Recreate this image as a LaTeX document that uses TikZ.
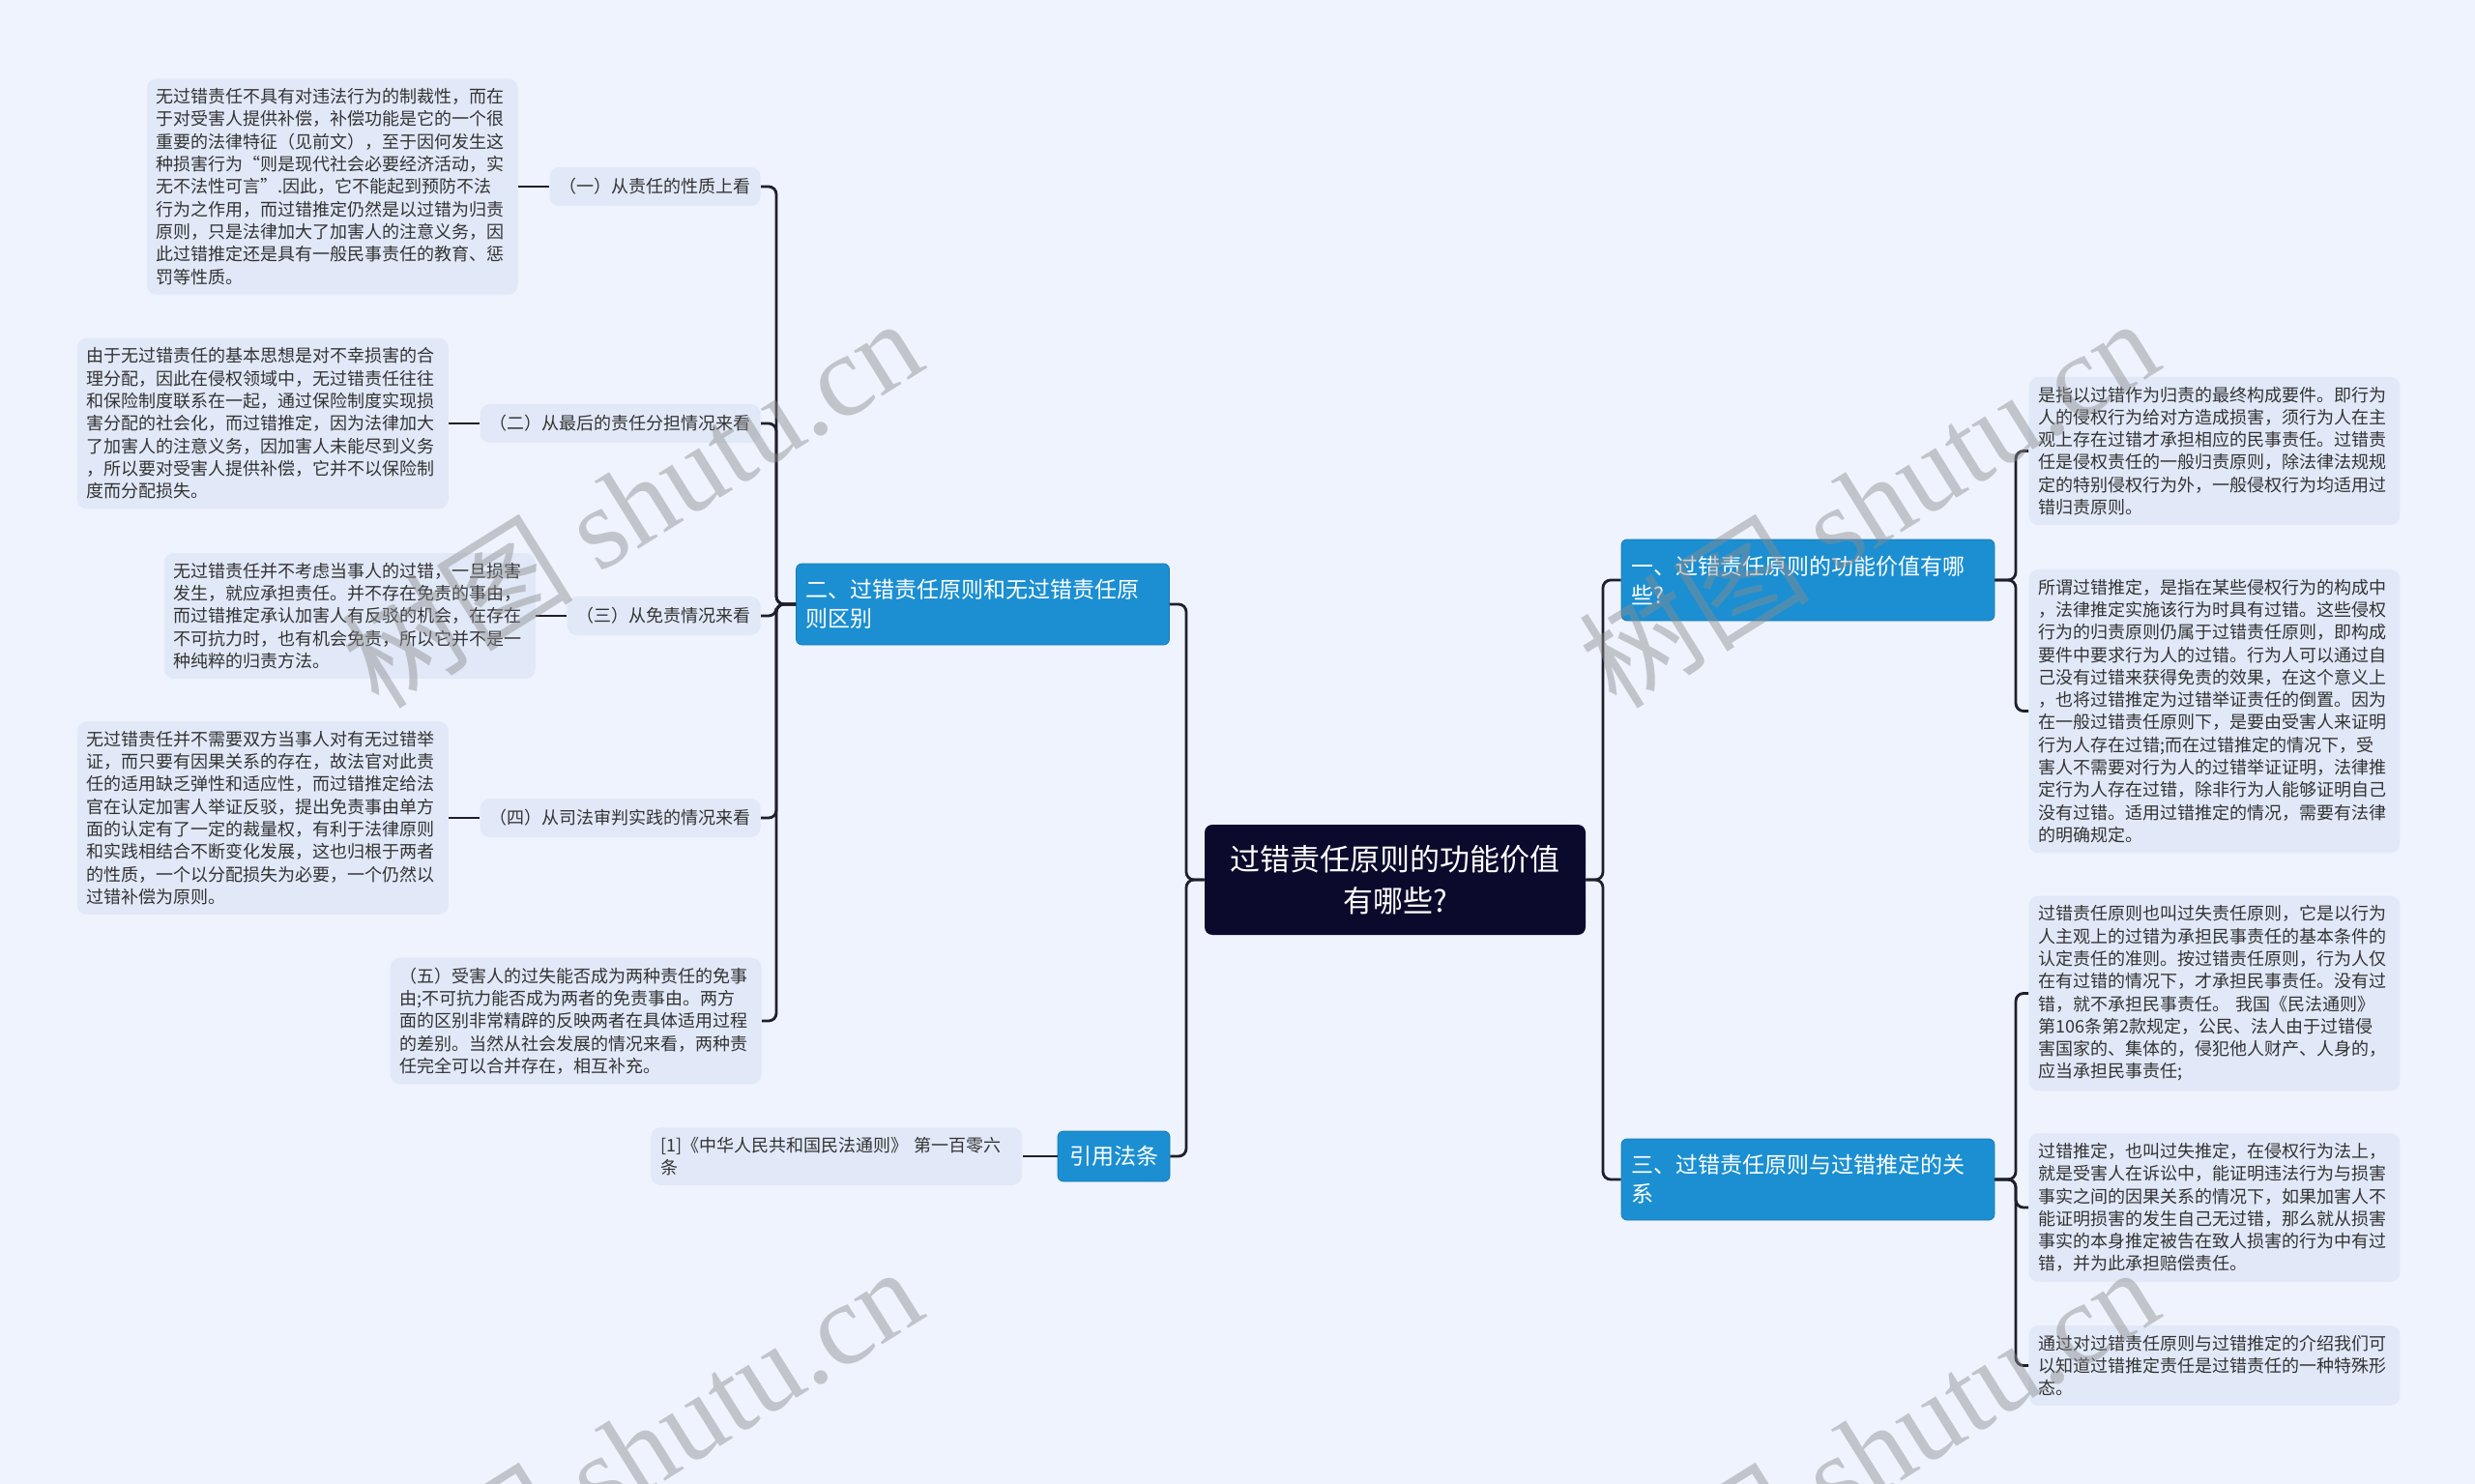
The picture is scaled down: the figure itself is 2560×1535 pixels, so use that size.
\documentclass[tikz,border=0pt]{standalone}
\usepackage{fontspec}
\setmainfont{Noto Sans CJK SC}
\newfontfamily\wmfont{Liberation Serif}
\usetikzlibrary{positioning}

\definecolor{bgblue}{HTML}{EEF3FD}
\definecolor{leafblue}{HTML}{E1E9F8}
\definecolor{branchblue}{HTML}{1B8FD2}
\definecolor{rootnavy}{HTML}{0B0A2C}
\definecolor{linegray}{HTML}{1F1F2B}
\definecolor{textgray}{HTML}{333333}

\begin{document}
\begin{tikzpicture}[x=0.5pt, y=-0.5pt,
  leaf/.style={fill=leafblue, rounded corners=5pt, text=textgray, align=left,
    text width=182pt, inner xsep=5pt, inner ysep=5pt,
    font=\fontsize{9pt}{11.65pt}\selectfont},
  sub/.style={fill=leafblue, rounded corners=5pt, text=textgray,
    inner xsep=5pt, minimum height=20pt, font=\fontsize{9pt}{11pt}\selectfont},
  branch/.style={fill=branchblue, draw=branchblue!85!black, rounded corners=3pt,
    text=white, align=left, text width=183pt, minimum height=42pt,
    inner xsep=5pt, font=\fontsize{11.5pt}{15pt}\selectfont},
  root/.style={fill=rootnavy, rounded corners=4pt, text=white, align=center,
    minimum width=197pt, minimum height=57pt,
    font=\fontsize{15.5pt}{21.5pt}\selectfont},
  conn/.style={draw=linegray, line width=1.4pt, rounded corners=4pt},
  wmark/.style={text=black!45, opacity=0.45, rotate=32,
    font=\fontsize{60pt}{60pt}\selectfont}]

  \useasboundingbox (0, 0) rectangle (2560, 1535);
  \fill[bgblue] (0, 0) rectangle (2560, 1535);

  % centre and main branches
  \node[root] (root) at (1443, 910) {过错责任原则的功能价值\\有哪些?};
  \node[branch] (b2) at (1016.5, 625) {二、过错责任原则和无过错责任原\\则区别};
  \node[branch, text width=46pt, inner xsep=6pt, minimum height=26pt,
    align=center] (cite) at (1152, 1196) {引用法条};
  \node[branch] (b1) at (1870, 600) {一、过错责任原则的功能价值有哪\\些?};
  \node[branch] (b3) at (1870, 1220) {三、过错责任原则与过错推定的关\\系};

  \coordinate (csl) at (1227, 910);
  \coordinate (csr) at (1658, 910);
  \coordinate (lsp) at (803, 625);
  \coordinate (rsp1) at (2085, 600);
  \coordinate (rsp3) at (2085, 1220);

  % left side
  \node[sub, anchor=east] (s1) at (787, 193) {（一）从责任的性质上看};
  \node[sub, anchor=east] (s2) at (787, 438) {（二）从最后的责任分担情况来看};
  \node[sub, anchor=east] (s3) at (787, 637) {（三）从免责情况来看};
  \node[sub, anchor=east] (s4) at (787, 846) {（四）从司法审判实践的情况来看};

  \node[leaf, left=16pt of s1] (l1) {无过错责任不具有对违法行为的制裁性，而在\\
    于对受害人提供补偿，补偿功能是它的一个很\\
    重要的法律特征（见前文），至于因何发生这\\
    种损害行为“则是现代社会必要经济活动，实\\
    无不法性可言”.因此，它不能起到预防不法\\
    行为之作用，而过错推定仍然是以过错为归责\\
    原则，只是法律加大了加害人的注意义务，因\\
    此过错推定还是具有一般民事责任的教育、惩\\
    罚等性质。};
  \node[leaf, left=16pt of s2] (l2) {由于无过错责任的基本思想是对不幸损害的合\\
    理分配，因此在侵权领域中，无过错责任往往\\
    和保险制度联系在一起，通过保险制度实现损\\
    害分配的社会化，而过错推定，因为法律加大\\
    了加害人的注意义务，因加害人未能尽到义务\\
    ，所以要对受害人提供补偿，它并不以保险制\\
    度而分配损失。};
  \node[leaf, left=16pt of s3] (l3) {无过错责任并不考虑当事人的过错，一旦损害\\
    发生，就应承担责任。并不存在免责的事由，\\
    而过错推定承认加害人有反驳的机会，在存在\\
    不可抗力时，也有机会免责，所以它并不是一\\
    种纯粹的归责方法。};
  \node[leaf, left=16pt of s4] (l4) {无过错责任并不需要双方当事人对有无过错举\\
    证，而只要有因果关系的存在，故法官对此责\\
    任的适用缺乏弹性和适应性，而过错推定给法\\
    官在认定加害人举证反驳，提出免责事由单方\\
    面的认定有了一定的裁量权，有利于法律原则\\
    和实践相结合不断变化发展，这也归根于两者\\
    的性质，一个以分配损失为必要，一个仍然以\\
    过错补偿为原则。};
  \node[leaf, anchor=east] (l5) at (788, 1056) {（五）受害人的过失能否成为两种责任的免事\\
    由;不可抗力能否成为两者的免责事由。两方\\
    面的区别非常精辟的反映两者在具体适用过程\\
    的差别。当然从社会发展的情况来看，两种责\\
    任完全可以合并存在，相互补充。};
  \node[leaf, left=18pt of cite] (citetxt) {[1]《中华人民共和国民法通则》 第一百零六\\条};

  % right side
  \node[leaf, anchor=west] (r1) at (2098, 466.5) {是指以过错作为归责的最终构成要件。即行为\\
    人的侵权行为给对方造成损害，须行为人在主\\
    观上存在过错才承担相应的民事责任。过错责\\
    任是侵权责任的一般归责原则，除法律法规规\\
    定的特别侵权行为外，一般侵权行为均适用过\\
    错归责原则。};
  \node[leaf, anchor=west] (r2) at (2098, 735.5) {所谓过错推定，是指在某些侵权行为的构成中\\
    ，法律推定实施该行为时具有过错。这些侵权\\
    行为的归责原则仍属于过错责任原则，即构成\\
    要件中要求行为人的过错。行为人可以通过自\\
    己没有过错来获得免责的效果，在这个意义上\\
    ，也将过错推定为过错举证责任的倒置。因为\\
    在一般过错责任原则下，是要由受害人来证明\\
    行为人存在过错;而在过错推定的情况下，受\\
    害人不需要对行为人的过错举证证明，法律推\\
    定行为人存在过错，除非行为人能够证明自己\\
    没有过错。适用过错推定的情况，需要有法律\\
    的明确规定。};
  \node[leaf, anchor=west] (r3) at (2098, 1027.5) {过错责任原则也叫过失责任原则，它是以行为\\
    人主观上的过错为承担民事责任的基本条件的\\
    认定责任的准则。按过错责任原则，行为人仅\\
    在有过错的情况下，才承担民事责任。没有过\\
    错，就不承担民事责任。 我国《民法通则》\\
    第106条第2款规定，公民、法人由于过错侵\\
    害国家的、集体的，侵犯他人财产、人身的，\\
    应当承担民事责任;};
  \node[leaf, anchor=west] (r4) at (2098, 1249) {过错推定，也叫过失推定，在侵权行为法上，\\
    就是受害人在诉讼中，能证明违法行为与损害\\
    事实之间的因果关系的情况下，如果加害人不\\
    能证明损害的发生自己无过错，那么就从损害\\
    事实的本身推定被告在致人损害的行为中有过\\
    错，并为此承担赔偿责任。};
  \node[leaf, anchor=west] (r5) at (2098, 1412.5) {通过对过错责任原则与过错推定的介绍我们可\\
    以知道过错推定责任是过错责任的一种特殊形\\
    态。};

  % connectors
  \draw[conn] (root.west) -- (csl) |- (b2.east);
  \draw[conn] (root.west) -- (csl) |- (cite.east);
  \draw[conn] (root.east) -- (csr) |- (b1.west);
  \draw[conn] (root.east) -- (csr) |- (b3.west);

  \draw[conn] (b2.west) -- (lsp) |- (s1.east);
  \draw[conn] (b2.west) -- (lsp) |- (s2.east);
  \draw[conn] (b2.west) -- (lsp) |- (s3.east);
  \draw[conn] (b2.west) -- (lsp) |- (s4.east);
  \draw[conn] (b2.west) -- (lsp) |- (l5.east);
  \draw[conn] (s1.west) -- (l1.east);
  \draw[conn] (s2.west) -- (l2.east);
  \draw[conn] (s3.west) -- (l3.east);
  \draw[conn] (s4.west) -- (l4.east);
  \draw[conn] (cite.west) -- (citetxt.east);

  \draw[conn] (b1.east) -- (rsp1) |- (r1.west);
  \draw[conn] (b1.east) -- (rsp1) |- (r2.west);
  \draw[conn] (b3.east) -- (rsp3) |- (r3.west);
  \draw[conn] (b3.east) -- (rsp3) |- (r4.west);
  \draw[conn] (b3.east) -- (rsp3) |- (r5.west);

  % watermark
  \begin{scope}
    \clip (0, 0) rectangle (2560, 1535);
    \node[wmark] (wm1) at (653, 519) {树图 {\wmfont shutu.cn}};
    \node[wmark] (wm2) at (1932, 519) {树图 {\wmfont shutu.cn}};
    \node[wmark] (wm3) at (653, 1500) {树图 {\wmfont shutu.cn}};
    \node[wmark] (wm4) at (1932, 1500) {树图 {\wmfont shutu.cn}};
  \end{scope}
\end{tikzpicture}
\end{document}
